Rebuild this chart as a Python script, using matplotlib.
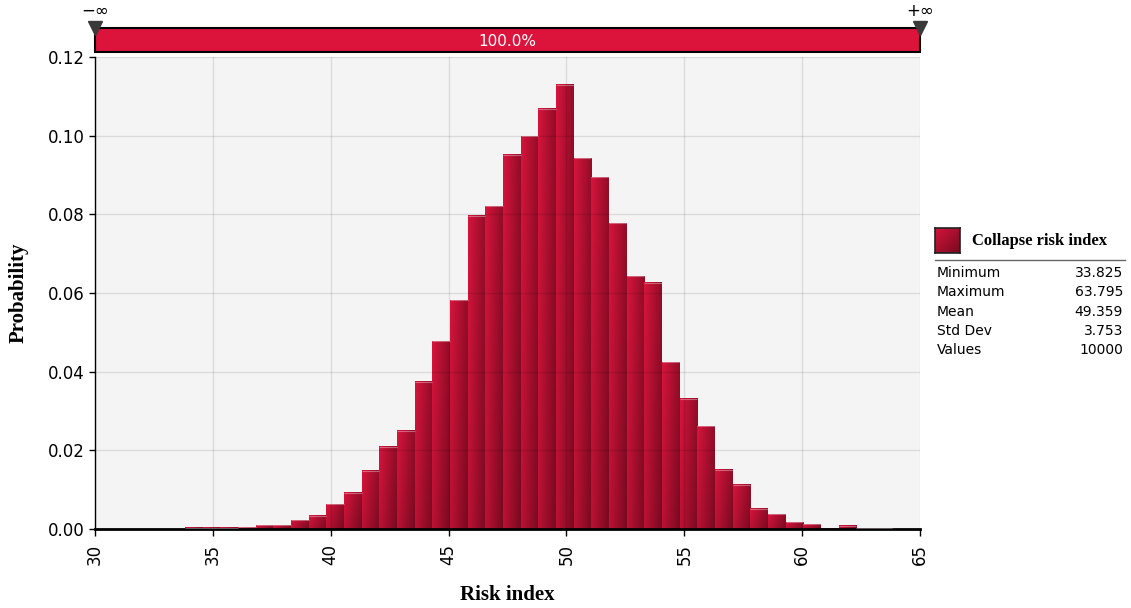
"""
Collapse risk index histogram (@RISK style)
Gradient red bars, delimiter band on top, stats box on the right
"""
import numpy as np
import matplotlib.pyplot as plt
from matplotlib.patches import Rectangle

# Data: 40 bins from min to max, density values
x_min = 33.825
x_max = 63.795
n_bins = 40
density = [0.0003, 0.0003, 0.0003, 0.0005, 0.0009, 0.0010, 0.0022, 0.0034,
           0.0063, 0.0092, 0.0148, 0.0209, 0.0250, 0.0375, 0.0477, 0.0582,
           0.0797, 0.0821, 0.0952, 0.0999, 0.1069, 0.1130, 0.0943, 0.0894,
           0.0777, 0.0642, 0.0626, 0.0424, 0.0331, 0.0261, 0.0151, 0.0113,
           0.0052, 0.0037, 0.0017, 0.0012, 0.0001, 0.0008, 0.0002, 0.0002]
stat_names = ['Minimum', 'Maximum', 'Mean', 'Std Dev', 'Values']
stat_values = ['33.825', '63.795', '49.359', '3.753', '10000']
x_ticks = [30, 35, 40, 45, 50, 55, 60, 65]
y_ticks = [0.00, 0.02, 0.04, 0.06, 0.08, 0.10, 0.12]
series_name = 'Collapse risk index'
band_label = '100.0%'

W, H = 1131, 608
light = np.array([214, 20, 60]) / 255
dark = np.array([120, 10, 32]) / 255


def gradient(nx=24, ny=48):
    xf = np.linspace(0, 1, nx)[None, :]
    yf = np.linspace(0, 1, ny)[:, None]   # 0 = top row
    t = np.clip(0.72 * xf + 0.28 * yf, 0, 1)
    return light[None, None, :] * (1 - t[..., None]) + dark[None, None, :] * t[..., None]


grad = gradient()

fig = plt.figure(figsize=(W / 100, H / 100), dpi=100)
ax = fig.add_axes([95 / W, 1 - 529 / H, 825 / W, 472 / H])
ax.set_facecolor('#f4f4f4')

edges = np.linspace(x_min, x_max, n_bins + 1)
width = edges[1] - edges[0]
bars = ax.bar(edges[:-1], density, width=width, align='edge',
              color='none', edgecolor='none', zorder=3)
for b in bars:
    x0, y0 = b.get_x(), b.get_y()
    x1, y1 = x0 + b.get_width(), y0 + b.get_height()
    ax.imshow(grad, extent=[x0, x1, y0, y1],
              aspect='auto', zorder=2, interpolation='bilinear')
    # faint light rim on the top edge
    ax.plot([x0, x1], [y1, y1], color=(1, 1, 1, 0.35), linewidth=0.8, zorder=3,
            solid_capstyle='butt')

ax.set_xlim(30, 65)
ax.set_ylim(0, 0.12)
ax.set_xticks(x_ticks)
ax.set_yticks(y_ticks)
ax.set_yticklabels([f'{v:.2f}' for v in y_ticks])
ax.grid(True, color='black', alpha=0.1, linewidth=1.0, zorder=4)
ax.set_axisbelow(False)

for s in ['top', 'right']:
    ax.spines[s].set_visible(False)
ax.spines['left'].set_linewidth(1.0)
ax.spines['bottom'].set_linewidth(2.0)
ax.tick_params(axis='x', labelrotation=90, labelsize=12, length=5, width=1, pad=6)
ax.tick_params(axis='y', labelsize=12, length=4, width=1)

ax.set_xlabel('Risk index', family='Liberation Serif', fontweight='bold', fontsize=15,
              labelpad=14)
ax.set_ylabel('Probability', family='Liberation Serif', fontweight='bold', fontsize=15,
              labelpad=14)

# Delimiter band on top
ax_top = fig.add_axes([95 / W, 1 - 52 / H, 825 / W, 24 / H])
ax_top.set_xlim(30, 65)
ax_top.set_ylim(0, 1)
ax_top.axis('off')
ax_top.add_patch(Rectangle((30, 0), 35, 1, facecolor='#dc143c', edgecolor='black',
                           linewidth=1.5, clip_on=False))
ax_top.text(47.5, 0.45, band_label, color='white', fontsize=11, ha='center', va='center')
ax_top.plot([30, 65], [1.0, 1.0], marker='v', linestyle='none', color='#3a3a3a',
            markersize=10, clip_on=False, zorder=5)
ax_top.text(30, 1.7, '\u2212\u221e', fontsize=12, ha='center', va='center')
ax_top.text(65, 1.7, '+\u221e', fontsize=12, ha='center', va='center')

# Legend square
ax_leg = fig.add_axes([935 / W, 1 - 253 / H, 25 / W, 25 / H])
sq = np.linspace(0, 1, 32)
t = np.clip(0.5 * sq[None, :] + 0.5 * sq[:, None], 0, 1)
ax_leg.imshow(light[None, None, :] * (1 - t[..., None]) + dark[None, None, :] * t[..., None],
              aspect='auto', interpolation='bilinear')
ax_leg.set_xticks([])
ax_leg.set_yticks([])
for s in ax_leg.spines.values():
    s.set_linewidth(1.2)
    s.set_color('#222222')

fig.text(972 / W, 1 - 241 / H, series_name, family='Liberation Serif', fontweight='bold',
         fontsize=12, va='center')
fig.add_artist(plt.Line2D([935 / W, 1125 / W], [1 - 260 / H, 1 - 260 / H],
                          color='#666666', linewidth=1.0))
for i, (name, val) in enumerate(zip(stat_names, stat_values)):
    yy = 1 - (273 + i * 19.3) / H
    fig.text(937 / W, yy, name, fontsize=10, va='center')
    fig.text(1123 / W, yy, val, fontsize=10, va='center', ha='right')

fig.savefig('out.png', dpi=100)
